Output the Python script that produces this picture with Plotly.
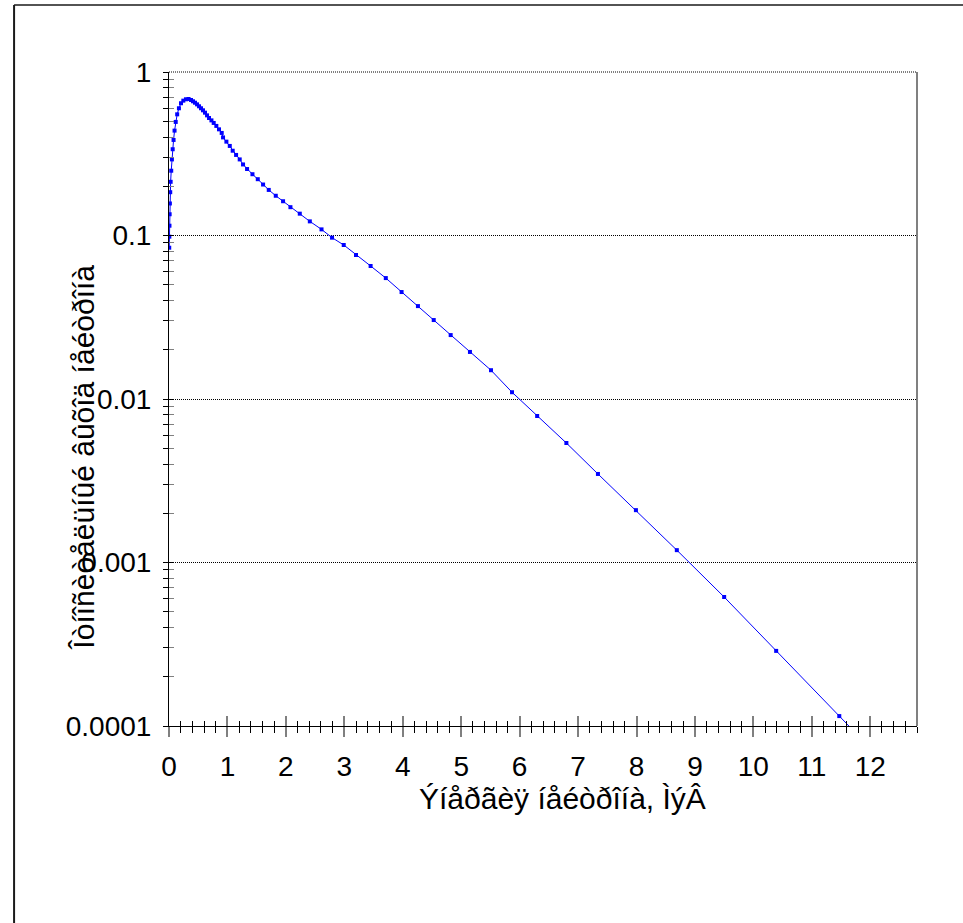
import plotly.graph_objects as go

# Neutron energy (MeV) and relative neutron yield
energy_mev = [
    0.004, 0.006, 0.008, 0.011, 0.015, 0.021, 0.028, 0.038, 0.05, 0.063,
    0.078, 0.095, 0.115, 0.14, 0.17, 0.205, 0.245, 0.29, 0.335,
    0.377, 0.411, 0.445, 0.48, 0.514, 0.548, 0.582, 0.616, 0.651, 0.685,
    0.726, 0.765, 0.81, 0.856, 0.902, 0.925, 0.982, 1.04, 1.09, 1.148,
    1.21, 1.267, 1.336, 1.428, 1.519, 1.61, 1.707, 1.827, 1.952, 2.078,
    2.238, 2.41, 2.61, 2.79, 2.99, 3.2, 3.45, 3.71, 3.98, 4.26,
    4.53, 4.82, 5.15, 5.51, 5.87, 6.3, 6.8, 7.34, 7.99, 8.69,
    9.5, 10.39, 11.47, 12.6,
]
relative_yield = [
    0.0842, 0.0984, 0.1148, 0.1349, 0.157, 0.184, 0.213, 0.249, 0.292, 0.337,
    0.384, 0.438, 0.495, 0.551, 0.600, 0.644, 0.668, 0.681, 0.684,
    0.674, 0.662, 0.649, 0.634, 0.617, 0.600, 0.583, 0.564, 0.543, 0.523,
    0.506, 0.488, 0.468, 0.446, 0.424, 0.398, 0.375, 0.353, 0.330, 0.311,
    0.292, 0.272, 0.255, 0.237, 0.221, 0.205, 0.190, 0.175, 0.162, 0.149,
    0.136, 0.122, 0.109, 0.097, 0.0875, 0.0760, 0.0651, 0.0549, 0.0451, 0.0370,
    0.0304, 0.0246, 0.0194, 0.0150, 0.0110, 0.00787, 0.00538, 0.00348, 0.00209, 0.00119,
    0.000615, 0.000288, 0.000115, 0.000044,
]

y_tick_values = [0.0001, 0.001, 0.01, 0.1, 1]
y_tick_labels = ["0.0001", "0.001", "0.01", "0.1", "1"]

x_title = "Ýíåðãèÿ íåéòðîíà, ÌýÂ"
y_title = "Îòíîñèòåëüíûé âûõîä íåéòðîíà"

FONT = "Liberation Sans, Arial, sans-serif"
FS = 28
FS_TITLE = 30
W, H = 963, 923
L, R, T, B = 169.3, 916.7, 72, 726

y_minor = [m * 10.0 ** e for e in range(-4, 0) for m in range(2, 10)]

fig = go.Figure()
fig.add_trace(go.Scatter(
    x=energy_mev, y=relative_yield, mode="lines+markers",
    line=dict(color="#0000FF", width=1),
    marker=dict(symbol="square", size=4, color="#0000FF", line=dict(width=0)),
    hoverinfo="x+y", showlegend=False,
))
# empty trace that carries the overlay axes used for inward tick halves
fig.add_trace(go.Scatter(x=[None], y=[None], xaxis="x2", yaxis="y2",
                         showlegend=False, hoverinfo="skip"))

common_x = dict(range=[0, 12.8], tick0=0, dtick=1, showgrid=False, zeroline=False)
common_y = dict(type="log", range=[-4, 0], tickvals=y_tick_values, zeroline=False)

fig.update_layout(
    width=W, height=H, autosize=False,
    margin=dict(l=L, r=W - R, t=T, b=H - B, pad=0),
    paper_bgcolor="white", plot_bgcolor="white",
    font=dict(family=FONT, size=FS, color="black"),
    xaxis=dict(
        **common_x, showline=True, linecolor="black", linewidth=1,
        ticks="outside", ticklen=10, tickwidth=2, tickcolor="#808080",
        ticklabelstandoff=5,
        tickfont=dict(family=FONT, size=FS, color="black"),
        minor=dict(dtick=0.2, tick0=0, ticks="outside", ticklen=6,
                   tickwidth=1, tickcolor="black", showgrid=False),
    ),
    xaxis2=dict(
        **common_x, overlaying="x", anchor="y2", side="bottom",
        showline=False, showticklabels=False,
        ticks="inside", ticklen=10, tickwidth=2, tickcolor="#808080",
        minor=dict(dtick=0.2, tick0=0, ticks="inside", ticklen=5,
                   tickwidth=1, tickcolor="black", showgrid=False),
    ),
    yaxis=dict(
        **common_y, ticktext=y_tick_labels,
        showline=True, linecolor="black", linewidth=1,
        showgrid=True, gridcolor="black", gridwidth=1, griddash="1px,1px",
        ticks="outside", ticklen=5, tickwidth=1, tickcolor="black",
        ticklabelstandoff=6,
        tickfont=dict(family=FONT, size=FS, color="black"),
        minor=dict(tickvals=y_minor, ticks="outside", ticklen=5,
                   tickwidth=1, tickcolor="black", showgrid=False),
    ),
    yaxis2=dict(
        **common_y, overlaying="y", anchor="x2", side="left",
        showline=False, showticklabels=False, showgrid=False,
        ticks="inside", ticklen=5, tickwidth=1, tickcolor="black",
        minor=dict(tickvals=y_minor, ticks="inside", ticklen=5,
                   tickwidth=1, tickcolor="#808080", showgrid=False),
    ),
)

pw, ph = R - L, B - T


def px_x(v):
    return (v - L) / pw


def px_y(v):
    return (B - v) / ph


shapes = [
    # right edge of the plot area
    dict(type="line", xref="paper", yref="paper", x0=1, x1=1, y0=0, y1=1,
         line=dict(color="#808080", width=2)),
    # top gridline at 1
    dict(type="line", xref="paper", yref="paper", x0=0, x1=1, y0=1, y1=1,
         line=dict(color="black", width=1, dash="1px,1px")),
    # chart frame (left and top edges)
    dict(type="line", xref="paper", yref="paper", x0=px_x(14.5), x1=px_x(14.5),
         y0=px_y(H + 5), y1=px_y(5), line=dict(color="#1a1a1a", width=2)),
    dict(type="line", xref="paper", yref="paper", x0=px_x(14.5), x1=px_x(W + 5),
         y0=px_y(5), y1=px_y(5), line=dict(color="#1a1a1a", width=1.5)),
]
fig.update_layout(shapes=shapes)

fig.add_annotation(text=x_title, xref="paper", yref="paper",
                   x=px_x(562), y=px_y(798), xanchor="center", yanchor="middle",
                   showarrow=False, font=dict(family=FONT, size=FS_TITLE, color="black"))
fig.add_annotation(text=y_title, xref="paper", yref="paper", textangle=-90,
                   x=px_x(83), y=px_y(457), xanchor="center", yanchor="middle",
                   showarrow=False, font=dict(family=FONT, size=FS_TITLE, color="black"))

fig.write_html("out.html")
